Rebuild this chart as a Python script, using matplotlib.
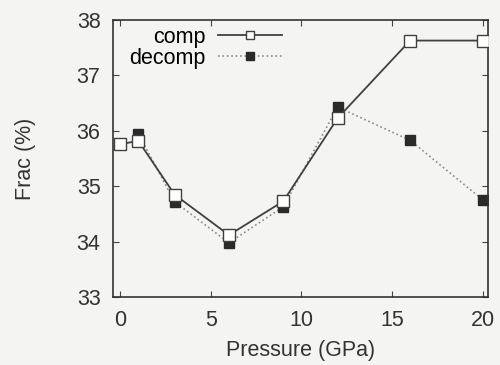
import matplotlib
matplotlib.use("Agg")
import matplotlib.pyplot as plt

plt.rcParams["font.family"] = ["Liberation Sans", "DejaVu Sans"]

# pressure points and fraction values for both runs
pressure_comp = [0, 1, 3, 6, 9, 12, 16, 20]
frac_comp = [35.76, 35.82, 34.85, 34.12, 34.73, 36.23, 37.63, 37.63]
pressure_decomp = [1, 3, 6, 9, 12, 16, 20]
frac_decomp = [35.95, 34.72, 33.98, 34.63, 36.43, 35.83, 34.76]

BG = "#f4f4f2"
TXT = "#333333"
FS = 15.5

fig = plt.figure(figsize=(5.0, 3.65), dpi=100, facecolor=BG)
ax = fig.add_axes([0.226, 0.186, 0.75, 0.759])
ax.set_facecolor(BG)

ax.plot(pressure_comp, frac_comp, color="#404040", lw=1.3, marker="s",
        markersize=8, markerfacecolor="white", markeredgecolor="#404040",
        markeredgewidth=1.0, label="comp", zorder=3)
ax.plot(pressure_decomp, frac_decomp, color="#8a8a8a", lw=1.2, ls=":",
        marker="s", markersize=7, markerfacecolor="#2a2a2a",
        markeredgecolor="#2a2a2a", label="decomp", zorder=2)

ax.set_xlim(-0.4, 20.3)
ax.set_ylim(33, 38)
ax.set_xticks([0, 5, 10, 15, 20])
ax.set_yticks([33, 34, 35, 36, 37, 38])
ax.tick_params(direction="in", top=True, right=True, length=4,
               labelsize=FS, color="#444444", labelcolor=TXT)
ax.tick_params(axis="x", pad=9)
ax.tick_params(axis="y", pad=9)
for s in ax.spines.values():
    s.set_color("#333333")
    s.set_linewidth(1.2)

ax.set_xlabel("Pressure (GPa)", fontsize=FS, labelpad=7, color=TXT)
ax.set_ylabel("Frac (%)", fontsize=FS, labelpad=29, color=TXT)

ax.legend(loc="upper left", bbox_to_anchor=(0.027, 1.0), frameon=False,
          markerfirst=False, fontsize=FS, handlelength=3.0,
          borderaxespad=0.0, borderpad=0.3, handletextpad=0.55,
          labelspacing=0.0, markerscale=0.8)

fig.savefig("out.png", dpi=100, facecolor=BG)
